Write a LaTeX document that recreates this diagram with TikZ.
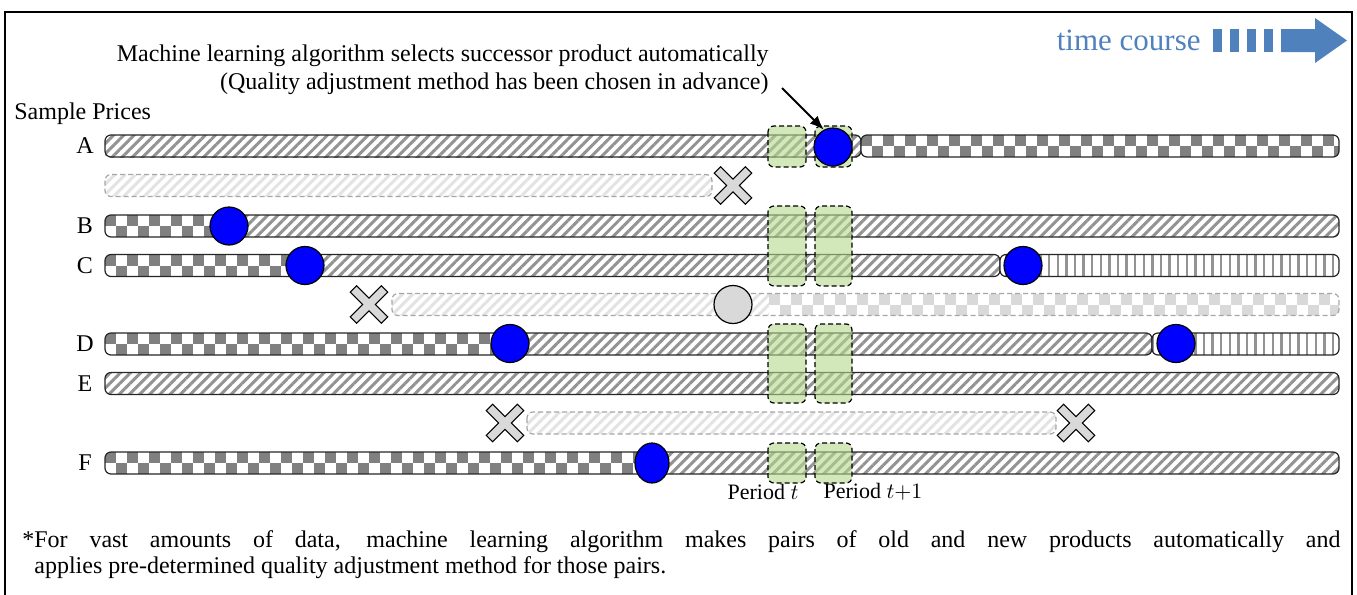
\documentclass[tikz,border=0pt]{standalone}
\usepackage{fontspec}
\setmainfont{Liberation Serif}
\usepackage{tikz}
\usetikzlibrary{calc,shapes,arrows.meta,patterns.meta}

\definecolor{periodgreen}{RGB}{180,215,140}
\definecolor{timeblue}{RGB}{79,129,189}
\definecolor{crossgray}{RGB}{217,217,217}

% white ground, then a fill style, for one stretch of a bar
\newcommand{\segfill}[4]{%
  \fill[white] (#2,#4-11) rectangle (#3,#4+11);
  \fill[#1] (#2,#4-11) rectangle (#3,#4+11);}
% checker stretch of a bar
\newcommand{\segcheck}[4]{%
  \fill[white] (#2,#4-11) rectangle (#3,#4+11);
  \pgfmathtruncatemacro{\cknext}{#2+22}
  \begin{scope}
    \clip (#2,#4-11) rectangle (#3,#4+11);
    \foreach \cx in {#2,\cknext,...,#3}{
      \fill[#1] (\cx,#4-11) rectangle ++(11,11);
      \fill[#1] (\cx+11,#4) rectangle ++(11,11);
    }
  \end{scope}}
\newcommand{\barclip}[3]{\clip[rounded corners=3pt] (#1,#3-11) rectangle (#2,#3+11);}

\tikzset{
  hatchfill/.style={pattern={Lines[angle=45,distance=3.6pt,line width=1.5pt]},pattern color=gray!85},
  fainthatch/.style={pattern={Lines[angle=45,distance=3.6pt,line width=1.5pt]},pattern color=gray!22},
  stripefill/.style={pattern={Lines[angle=90,distance=4.3pt,line width=1.2pt]},pattern color=gray!85},
  barline/.style={draw=black!85,line width=0.6pt,rounded corners=3pt},
  faintline/.style={draw=gray!70,dash pattern=on 2.5pt off 1.5pt,line width=0.6pt,rounded corners=3pt},
  period/.style={draw=black,dash pattern=on 2.5pt off 1.5pt,line width=0.6pt,rounded corners=3pt,
    fill=periodgreen,fill opacity=0.6},
  bluedot/.style={circle,draw,fill=blue,minimum size=19pt,inner sep=0pt,line width=0.6pt},
  graydot/.style={circle,draw,fill=crossgray,minimum size=19pt,inner sep=0pt,line width=0.6pt},
  rowlabel/.style={font=\fontsize{12}{14}\selectfont},
  periodlabel/.style={font=\fontsize{11}{13}\selectfont},
  xmark/.pic={
    \draw[fill=crossgray,line width=0.6pt,rotate=45] (4.5,4.5) -- (22,4.5) -- (22,-4.5) -- (4.5,-4.5)
      -- (4.5,-22) -- (-4.5,-22) -- (-4.5,-4.5) -- (-22,-4.5) -- (-22,4.5) -- (-4.5,4.5)
      -- (-4.5,22) -- (4.5,22) -- cycle;
  }
}

\begin{document}
\begin{tikzpicture}[x=0.5pt,y=-0.5pt]
  \useasboundingbox (0,0) rectangle (1357,595);
  \draw[line width=1pt] (5,12) rectangle (1352,620);

  % time course
  \node[text=timeblue,font=\fontsize{15.5}{18}\selectfont,anchor=east,inner sep=0pt] (tc) at (1201,40) {time course};
  \foreach \bx in {1213,1230,1247,1264}
    \fill[timeblue] (\bx,29) rectangle ++(9,23);
  \fill[timeblue] (1281,29) -- (1315,29) -- (1315,18) -- (1347,40.5) -- (1315,63) -- (1315,52) -- (1281,52) -- cycle;

  % note
  \node[anchor=east,align=right,font=\fontsize{12}{14}\selectfont,inner sep=0pt] (note) at (769,70)
    {Machine learning algorithm selects successor product automatically\\
     (Quality adjustment method has been chosen in advance)};
  \node[anchor=west,rowlabel,inner sep=0pt] (sp) at (14,114) {Sample Prices};

  % row labels
  \foreach \lab/\yy in {A/146,B/226,C/265.5,D/344,E/383.5,F/463}
    \node[rowlabel] (lab\lab) at (85,\yy) {\lab};

  % A
  \segfill{hatchfill}{105}{861}{146}
  \draw[barline] (105,135) rectangle (861,157);
  \begin{scope}
    \barclip{861}{1339}{146}
    \segcheck{gray}{861}{1339}{146}
  \end{scope}
  \draw[barline] (861,135) rectangle (1339,157);
  % A'
  \begin{scope}
    \barclip{105}{712}{185.5}
    \segfill{fainthatch}{105}{712}{185.5}
  \end{scope}
  \draw[faintline] (105,174.5) rectangle (712,196.5);
  % B
  \begin{scope}
    \barclip{105}{1339}{226}
    \segcheck{gray}{105}{229}{226}
    \segfill{hatchfill}{229}{1339}{226}
  \end{scope}
  \draw[barline] (105,215) rectangle (1339,237);
  % C
  \begin{scope}
    \barclip{105}{1000}{265.5}
    \segcheck{gray}{105}{305}{265.5}
    \segfill{hatchfill}{305}{1000}{265.5}
  \end{scope}
  \draw[barline] (105,254.5) rectangle (1000,276.5);
  \begin{scope}
    \barclip{1000}{1339}{265.5}
    \segfill{stripefill}{1000}{1339}{265.5}
  \end{scope}
  \draw[barline] (1000,254.5) rectangle (1339,276.5);
  % C'
  \begin{scope}
    \barclip{392}{1339}{304.5}
    \segfill{fainthatch}{392}{769}{304.5}
    \segcheck{crossgray}{769}{1339}{304.5}
  \end{scope}
  \draw[faintline] (392,293.5) rectangle (1339,315.5);
  % D
  \begin{scope}
    \barclip{105}{1152}{344}
    \segcheck{gray}{105}{510}{344}
    \segfill{hatchfill}{510}{1152}{344}
  \end{scope}
  \draw[barline] (105,333) rectangle (1152,355);
  \begin{scope}
    \barclip{1152}{1339}{344}
    \segfill{stripefill}{1152}{1339}{344}
  \end{scope}
  \draw[barline] (1152,333) rectangle (1339,355);
  % E
  \begin{scope}
    \barclip{105}{1339}{383.5}
    \segfill{hatchfill}{105}{1339}{383.5}
  \end{scope}
  \draw[barline] (105,372.5) rectangle (1339,394.5);
  % E'
  \begin{scope}
    \barclip{527}{1056}{423}
    \segfill{fainthatch}{527}{1056}{423}
  \end{scope}
  \draw[faintline] (527,412) rectangle (1056,434);
  % F
  \begin{scope}
    \barclip{105}{1339}{463}
    \segcheck{gray}{105}{652}{463}
    \segfill{hatchfill}{652}{1339}{463}
  \end{scope}
  \draw[barline] (105,452) rectangle (1339,474);

  % periods t and t+1
  \foreach \ya/\yb in {126/167,206/286,324/403,443/483}{
    \draw[period] (768,\ya) rectangle (806,\yb);
    \draw[period] (815,\ya) rectangle (852,\yb);
  }
  \node[periodlabel] (pt) at (763,492) {Period $t$};
  \node[periodlabel] (pt1) at (873,492) {Period $t{+}1$};

  % replacements
  \node[bluedot] (cA) at (833,147) {};
  \node[bluedot] (cB) at (229,226) {};
  \node[bluedot] (cC) at (305,265.5) {};
  \node[bluedot] (cC2) at (1023,265.5) {};
  \node[graydot] (cCx) at (733,304.5) {};
  \node[bluedot] (cD) at (510,343.5) {};
  \node[bluedot] (cD2) at (1176,343.5) {};
  \node[bluedot,ellipse,minimum width=17pt,minimum height=20pt] (cF) at (652,463) {};

  \pic (xA) at (733,185.5) {xmark};
  \pic (xC) at (369,304.5) {xmark};
  \pic (xE) at (505,423) {xmark};
  \pic (xE2) at (1076,423) {xmark};

  \coordinate (arrowfrom) at (782,88);
  \draw[-{Latex[length=7pt,width=5.5pt]},line width=1pt] (arrowfrom) -- (cA.118);

  % footnote
  \node[anchor=base west,inner sep=0pt,font=\fontsize{12}{14}\selectfont] (fn1) at (22,547)
    {\makebox[659pt][s]{*For vast amounts of data, machine learning algorithm makes pairs of old and new products automatically and}};
  \node[anchor=base west,inner sep=0pt,font=\fontsize{12}{14}\selectfont] (fn2) at (34,573)
    {applies pre-determined quality adjustment method for those pairs.};
\end{tikzpicture}
\end{document}
